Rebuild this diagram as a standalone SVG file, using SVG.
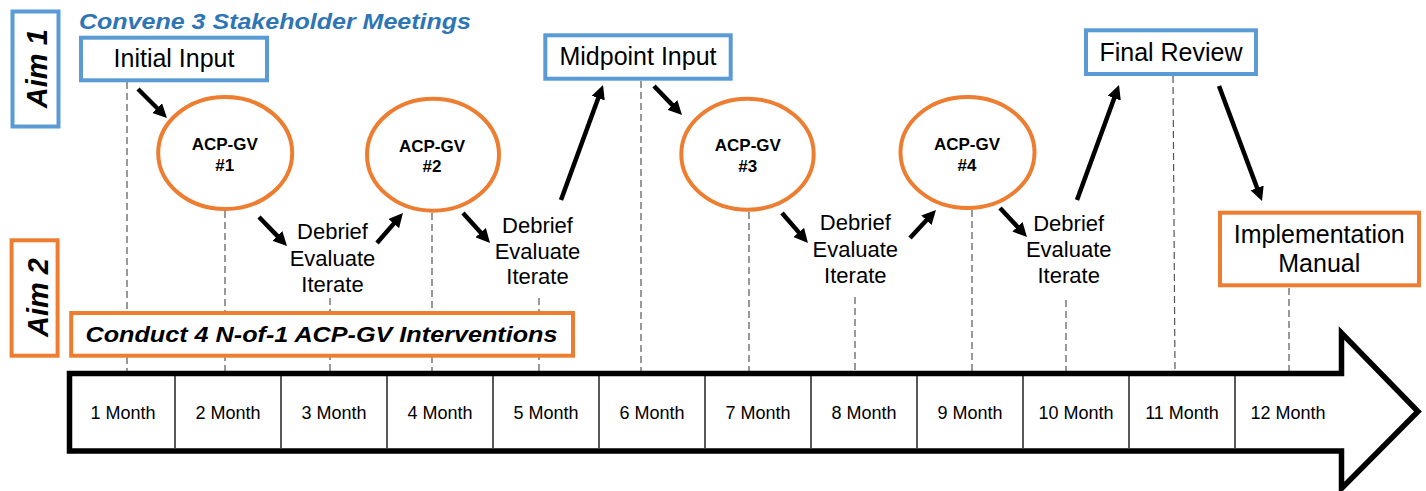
<svg xmlns="http://www.w3.org/2000/svg" width="1426" height="491" viewBox="0 0 1426 491">
<style>
.bluebox{fill:#fff;stroke:#5B9BD5;stroke-width:4}
.orbox{fill:#fff;stroke:#ED7D31;stroke-width:4}
.oval{fill:#fff;stroke:#ED7D31;stroke-width:4}
.lbl{font-family:"Liberation Sans",Arial,sans-serif;font-size:25px;fill:#000;text-anchor:middle}
.aim{font-family:"Liberation Sans",Arial,sans-serif;font-size:29px;font-weight:bold;font-style:italic;fill:#000;text-anchor:middle}
.acp{font-family:"Liberation Sans",Arial,sans-serif;font-size:17px;font-weight:bold;fill:#000;text-anchor:middle}
.deb{font-family:"Liberation Sans",Arial,sans-serif;font-size:22px;fill:#000;text-anchor:middle}
.mon{font-family:"Liberation Sans",Arial,sans-serif;font-size:18px;fill:#000;text-anchor:middle}
.dash{stroke:#555;stroke-width:1.2;stroke-dasharray:7,4;fill:none}
.arr{stroke:#000;stroke-width:4.5;fill:none;marker-end:url(#ah)}
.div{stroke:#222;stroke-width:1.5}
</style>
<defs>
<marker id="ah" markerUnits="userSpaceOnUse" viewBox="0 0 14 14" markerWidth="14" markerHeight="14" refX="2" refY="7" orient="auto">
<path d="M0,0 L14,7 L0,14 z" fill="#000"/>
</marker>
</defs>
<rect width="1426" height="491" fill="#fff"/>

<g id="guides">
<line class="dash" x1="127" y1="82" x2="127" y2="371"/>
<line class="dash" x1="225" y1="211" x2="225" y2="371"/>
<line class="dash" x1="330" y1="298" x2="330" y2="371"/>
<line class="dash" x1="432" y1="213" x2="432" y2="371"/>
<line class="dash" x1="539" y1="298" x2="539" y2="371"/>
<line class="dash" x1="641" y1="81" x2="641" y2="371"/>
<line class="dash" x1="749" y1="212" x2="749" y2="371"/>
<line class="dash" x1="855" y1="297" x2="855" y2="371"/>
<line class="dash" x1="972" y1="210" x2="972" y2="371"/>
<line class="dash" x1="1066" y1="300" x2="1066" y2="371"/>
<line class="dash" x1="1173" y1="76" x2="1175" y2="371"/>
<line class="dash" x1="1289" y1="288" x2="1289" y2="371"/>
</g>

<g id="aim1">
<rect class="bluebox" x="12.5" y="11.5" width="46" height="115"/>
<text class="aim" transform="translate(47,68.7) rotate(-90)">Aim 1</text>
</g>
<g id="aim2">
<rect class="orbox" x="11.6" y="240.3" width="46" height="115.4"/>
<text class="aim" transform="translate(48,297.5) rotate(-90)">Aim 2</text>
</g>

<g id="title">
<text x="79" y="28.5" font-family="'Liberation Sans',Arial,sans-serif" font-size="22.5" font-weight="bold" font-style="italic" fill="#2E75B6" textLength="392" lengthAdjust="spacingAndGlyphs">Convene 3 Stakeholder Meetings</text>
</g>

<g id="conduct">
<rect class="orbox" x="71.2" y="313" width="501.8" height="42.7"/>
<text x="85.5" y="342.3" font-family="'Liberation Sans',Arial,sans-serif" font-size="22" font-weight="bold" font-style="italic" fill="#000" textLength="472" lengthAdjust="spacingAndGlyphs">Conduct 4 N-of-1 ACP-GV Interventions</text>
</g>

<g id="initial-input">
<rect class="bluebox" x="81" y="37.7" width="186" height="42.6"/>
<text class="lbl" x="174" y="66.7">Initial Input</text>
</g>
<g id="midpoint-input">
<rect class="bluebox" x="545.3" y="35.3" width="185.4" height="43.4"/>
<text class="lbl" x="638" y="65">Midpoint Input</text>
</g>
<g id="final-review">
<rect class="bluebox" x="1086" y="30.3" width="170" height="43.7"/>
<text class="lbl" x="1171" y="60.7">Final Review</text>
</g>
<g id="implementation-manual">
<rect class="orbox" x="1220" y="212.7" width="199" height="72.6"/>
<text class="lbl" x="1319.3" y="242.7">Implementation</text>
<text class="lbl" x="1319.3" y="271.7">Manual</text>
</g>

<g id="acpgv1">
<ellipse class="oval" cx="225.2" cy="153" rx="67" ry="56"/>
<text class="acp" x="224.7" y="150">ACP-GV</text>
<text class="acp" x="224.7" y="170.5">#1</text>
</g>
<g id="acpgv2">
<ellipse class="oval" cx="433" cy="154.7" rx="66" ry="56"/>
<text class="acp" x="432" y="151.7">ACP-GV</text>
<text class="acp" x="432" y="172">#2</text>
</g>
<g id="acpgv3">
<ellipse class="oval" cx="747.5" cy="154.2" rx="66.2" ry="55.5"/>
<text class="acp" x="747.8" y="150.7">ACP-GV</text>
<text class="acp" x="747.8" y="172">#3</text>
</g>
<g id="acpgv4">
<ellipse class="oval" cx="967.5" cy="152.5" rx="67" ry="55.5"/>
<text class="acp" x="967" y="150">ACP-GV</text>
<text class="acp" x="967" y="171">#4</text>
</g>

<g id="debrief1">
<text class="deb" x="332.5" y="239.3">Debrief</text>
<text class="deb" x="332.5" y="266">Evaluate</text>
<text class="deb" x="332.5" y="291.7">Iterate</text>
</g>
<g id="debrief2">
<text class="deb" x="537.5" y="233">Debrief</text>
<text class="deb" x="537.5" y="259">Evaluate</text>
<text class="deb" x="537.5" y="284">Iterate</text>
</g>
<g id="debrief3">
<text class="deb" x="855.3" y="230">Debrief</text>
<text class="deb" x="855.3" y="256.7">Evaluate</text>
<text class="deb" x="855.3" y="282.7">Iterate</text>
</g>
<g id="debrief4">
<text class="deb" x="1068.7" y="230.7">Debrief</text>
<text class="deb" x="1068.7" y="257.3">Evaluate</text>
<text class="deb" x="1068.7" y="283.3">Iterate</text>
</g>

<g id="connectors">
<line class="arr" x1="138" y1="89" x2="158.5" y2="109.5"/>
<line class="arr" x1="259" y1="217" x2="278.7" y2="237.4"/>
<line class="arr" x1="377" y1="243" x2="395.1" y2="222.1"/>
<line class="arr" x1="463" y1="213" x2="482" y2="234.1"/>
<line class="arr" x1="561" y1="200" x2="598.9" y2="96.3"/>
<line class="arr" x1="654" y1="86" x2="673.7" y2="106.4"/>
<line class="arr" x1="782" y1="213" x2="800.1" y2="233.9"/>
<line class="arr" x1="910" y1="238" x2="927.8" y2="218.8"/>
<line class="arr" x1="1000" y1="208" x2="1018.8" y2="228.2"/>
<line class="arr" x1="1077" y1="200" x2="1114.9" y2="96.3"/>
<line class="arr" x1="1219" y1="86" x2="1257.8" y2="189.8"/>
</g>

<g id="timeline">
<polygon points="69.5,373.5 1341.5,373.5 1341.5,333 1418,411.5 1341.5,488.5 1341.5,451 69.5,451" fill="#fff" stroke="#000" stroke-width="5.5" stroke-linejoin="miter"/>
<line class="div" x1="175" y1="376" x2="175" y2="448"/>
<line class="div" x1="281" y1="376" x2="281" y2="448"/>
<line class="div" x1="387" y1="376" x2="387" y2="448"/>
<line class="div" x1="493" y1="376" x2="493" y2="448"/>
<line class="div" x1="599" y1="376" x2="599" y2="448"/>
<line class="div" x1="705" y1="376" x2="705" y2="448"/>
<line class="div" x1="811" y1="376" x2="811" y2="448"/>
<line class="div" x1="917" y1="376" x2="917" y2="448"/>
<line class="div" x1="1023" y1="376" x2="1023" y2="448"/>
<line class="div" x1="1129" y1="376" x2="1129" y2="448"/>
<line class="div" x1="1235" y1="376" x2="1235" y2="448"/>
<text class="mon" x="123" y="419">1 Month</text>
<text class="mon" x="228" y="419">2 Month</text>
<text class="mon" x="334" y="419">3 Month</text>
<text class="mon" x="440" y="419">4 Month</text>
<text class="mon" x="546" y="419">5 Month</text>
<text class="mon" x="652" y="419">6 Month</text>
<text class="mon" x="758" y="419">7 Month</text>
<text class="mon" x="864" y="419">8 Month</text>
<text class="mon" x="970" y="419">9 Month</text>
<text class="mon" x="1076" y="419">10 Month</text>
<text class="mon" x="1182" y="419">11 Month</text>
<text class="mon" x="1288" y="419">12 Month</text>
</g>
</svg>
